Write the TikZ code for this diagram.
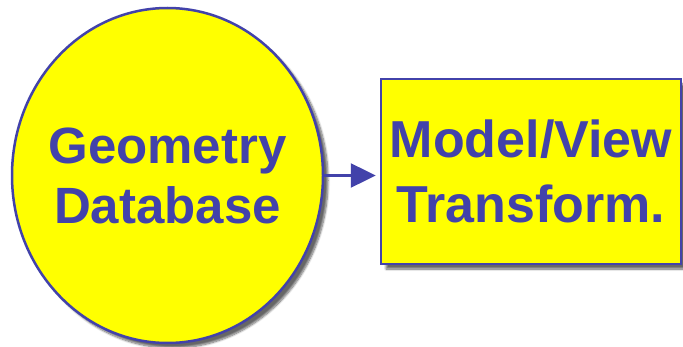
\documentclass[tikz,border=0pt]{standalone}
\usepackage{fontspec}
\setmainfont{Liberation Sans}
\usepackage{tikz}
\usetikzlibrary{arrows.meta}
\usetikzlibrary{shapes.geometric}
\usetikzlibrary{shadows.blur}
\definecolor{stageblue}{RGB}{66,66,170}
\definecolor{stageyellow}{RGB}{255,255,0}

\begin{document}
\begin{tikzpicture}[x=1pt, y=1pt,
        stage/.style={draw=stageblue, fill=stageyellow, line width=2.5pt,
          inner sep=0pt,
          blur shadow={shadow xshift=5pt, shadow yshift=-5pt,
            shadow blur steps=8, shadow opacity=60}},
        stagetext/.style={text=stageblue, align=center, inner sep=0pt,
          font=\fontsize{51}{60}\selectfont\bfseries}]

        \useasboundingbox (0,0) rectangle (683,346);

        \node[stage, ellipse, minimum width=311, minimum height=335,
        label={[stagetext]center:Geometry\\Database}] (geom)
        at (167.5, 170.5) {};

        \node[stage, stagetext, rectangle, minimum width=300, minimum height=185,
        font=\fontsize{52}{65}\selectfont\bfseries] (mvt) at (531, 174.5)
        {Model/View\\Transform.};

        \draw[stageblue, line width=2.5pt, -{Triangle[length=25pt, width=24pt]},
        shorten >=4pt] (geom.east) -- (geom.east -| mvt.west);
    \end{tikzpicture}
\end{document}
